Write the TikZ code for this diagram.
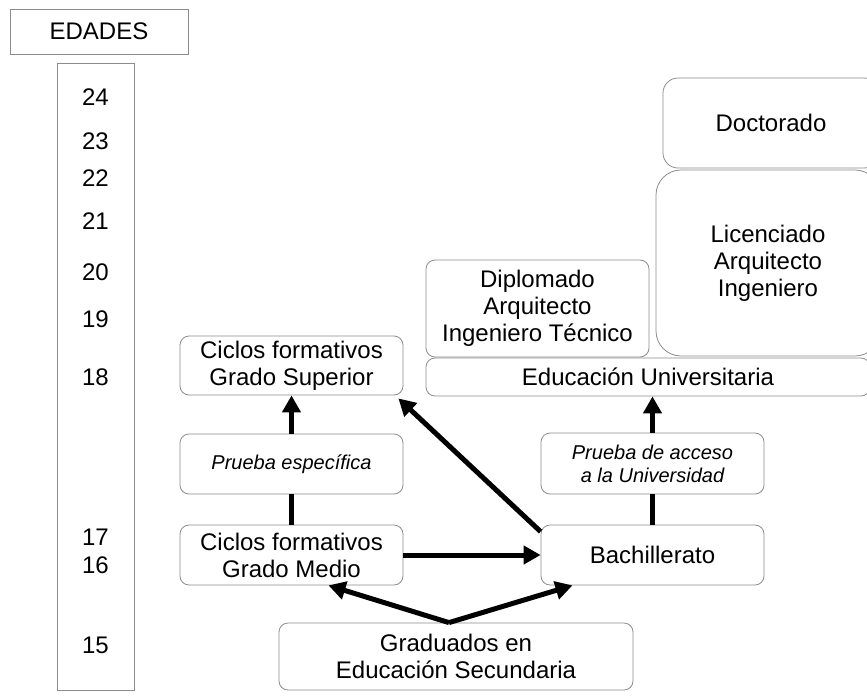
\documentclass[tikz,border=0pt]{standalone}
\usepackage{fontspec}
\setmainfont{Liberation Sans}
\usetikzlibrary{arrows.meta}
\usetikzlibrary{calc}
\colorlet{boxgray}{black!45}
\newcommand\bigtxt{\fontsize{24}{27}\selectfont}
\newcommand\smalltxt{\fontsize{20}{23}\selectfont\itshape}
\tikzstyle{plain}=[draw=boxgray,line width=.8pt,inner sep=0pt,font=\bigtxt]
\tikzstyle{box}=[plain,rounded corners=9pt,align=center]
\tikzstyle{prueba}=[box,font=\smalltxt]
\tikzstyle{age}=[font=\bigtxt]
\tikzstyle{arhead}=[>/.tip={Triangle[length=17pt,width=18pt]}]
\tikzstyle{ar}=[line width=5pt,arhead,->]
\tikzstyle{ln}=[line width=5pt]
\begin{document}
\begin{tikzpicture}[x=1pt,y=-1pt]
	\clip (0,0) rectangle (867,696);
	% ages column
	\node[plain,minimum width=178,minimum height=45] (edades) at (99,31.5) {EDADES};
	\node[plain,minimum width=77,minimum height=627] (col) at (95.5,376.5) {};
	\foreach \a/\y in {24/97,23/141,22/178,21/221,20/272,19/319,18/377,17/537,16/565,15/645}
	  \node[age] (age\a) at (95.5,\y) {\a};
	% left branch
	\node[box,minimum width=223,minimum height=59] (gs) at (291.5,365.5) {Ciclos formativos\\Grado Superior};
	\node[prueba,minimum width=223,minimum height=60] (pe) at (291.5,464) {Prueba específica};
	\node[box,minimum width=223,minimum height=60] (gm) at (291.5,555) {Ciclos formativos\\Grado Medio};
	% right branch
	\node[box,minimum width=223,minimum height=60] (bach) at (652.5,555) {Bachillerato};
	\node[prueba,minimum width=223,minimum height=61] (pa) at (652.5,463.5) {Prueba de acceso\\a la Universidad};
	\node[box,minimum width=444,minimum height=38] (edu) at (648,377) {Educación Universitaria};
	\node[box,minimum width=223,minimum height=97] (dip) at (537.5,308.5) {Diplomado\\Arquitecto\\Ingeniero Técnico};
	\node[box,rounded corners=25pt,minimum width=224,minimum height=186] (lic) at (768,263) {Licenciado\\Arquitecto\\Ingeniero};
	\node[box,rounded corners=15pt,minimum width=216,minimum height=90] (doc) at (771,123) {Doctorado};
	\node[box,minimum width=354,minimum height=67] (grad) at (456,656.5) {Graduados en\\Educación Secundaria};
	\coordinate (fork) at ([xshift=-7pt]grad.north);
	% arrows
	\draw[ar] (pe) -- (gs);
	\draw[ln] (gm) -- (pe);
	\draw[ar] (gm) -- (bach);
	\draw[ar] ([yshift=-7pt]bach.north west) -- ($(gs.south east)+(-5,3)$);
	\draw[ln] (bach) -- (pa);
	\draw[ar] (pa.north) -- (pa.north |- edu.south);
	\draw[ar] (fork) -- ([xshift=37pt]gm.south);
	\draw[ar] (fork) -- ([xshift=-80pt]bach.south);
\end{tikzpicture}
\end{document}
